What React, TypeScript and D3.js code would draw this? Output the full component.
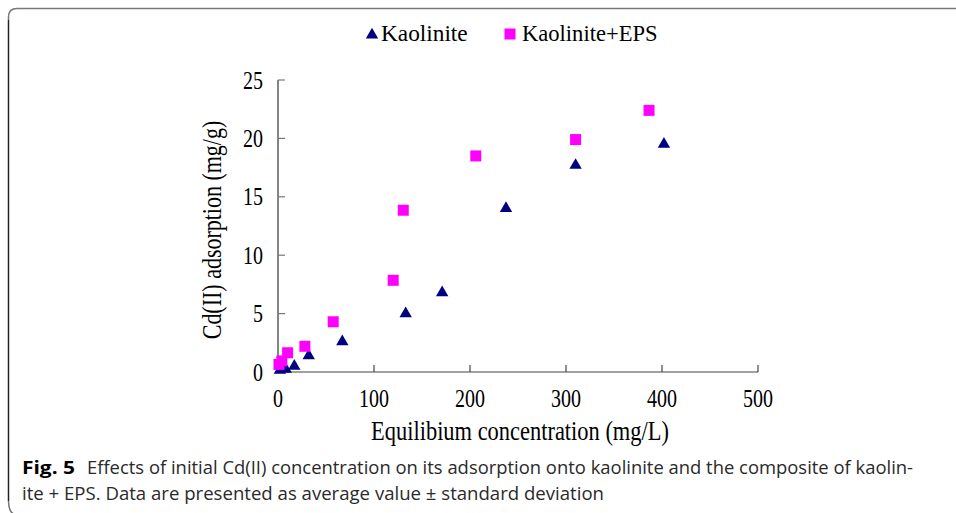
import React from "react";
import * as d3 from "d3";

const seriesNames = ["Kaolinite", "Kaolinite+EPS"];
const kaoliniteX = [2, 8, 17, 32, 67, 133, 171, 237.5, 310, 402];
const kaoliniteY = [0.15, 0.25, 0.5, 1.4, 2.6, 5.0, 6.8, 14.0, 17.7, 19.5];
const epsX = [1, 4, 10, 28, 57.5, 120, 130.5, 206, 310, 386.5];
const epsY = [0.65, 0.95, 1.65, 2.2, 4.3, 7.85, 13.85, 18.5, 19.9, 22.4];
const xTicks = [0, 100, 200, 300, 400, 500];
const yTicks = [0, 5, 10, 15, 20, 25];

const W = 956;
const H = 513;
const serif = "'Liberation Serif', 'Times New Roman', serif";
const sans = "'Open Sans', 'Noto Sans', sans-serif";

function ST(props: { x: number; y: number; sx?: number; sy?: number; rot?: number; anchor?: string; size: number; children: React.ReactNode }) {
  const { x, y, sx = 1, sy = 1, rot = 0, anchor = "start", size } = props;
  return (
    <text
      transform={`translate(${x},${y}) rotate(${rot}) scale(${sx},${sy})`}
      textAnchor={anchor}
      fontFamily={serif}
      fontSize={size}
      fill="#000"
    >
      {props.children}
    </text>
  );
}

export default function App() {
  const x = d3.scaleLinear().domain([0, 500]).range([278, 758]);
  const y = d3.scaleLinear().domain([0, 25]).range([372, 80]);
  const tri = d3.symbol().type(d3.symbolTriangle).size(66)() as string;
  const sq = d3.symbol().type(d3.symbolSquare).size(121)() as string;
  const navy = "#000080";
  const mag = "#ff00ff";
  return (
    <svg width={W} height={H} style={{ position: "absolute", left: 0, top: 0, background: "#fff" }}>
      <rect x={0} y={0} width={W} height={H} fill="#fff" />
      {/* frame */}
      <path d={`M ${W + 10} 8.5 L 17 8.5 Q 8.5 8.5 8.5 17 L 8.5 ${H - 12} Q 8.5 ${H + 2} 18 ${H + 2}`} fill="none" stroke="#777" strokeWidth={1.5} />
      <path d={`M 8.5 20 L 8.5 ${H - 12}`} fill="none" stroke="#222" strokeWidth={1.2} />
      {/* legend */}
      <path d={tri} transform="translate(372,35)" fill={navy} />
      <ST x={381} y={41} size={21} sx={1.11} sy={1.05}>{seriesNames[0]}</ST>
      <path d={sq} transform="translate(510,34)" fill={mag} />
      <ST x={522} y={41} size={21} sx={1.075} sy={1.05}>{seriesNames[1]}</ST>
      {/* axes */}
      <line x1={x(0)} x2={x(0)} y1={y(25)} y2={y(0)} stroke="#777" strokeWidth={1.8} />
      <line x1={x(0)} x2={x(500)} y1={y(0)} y2={y(0)} stroke="#444" strokeWidth={1.2} />
      {yTicks.map((t) => (
        <g key={"y" + t}>
          <line x1={x(0)} x2={x(0) + 7} y1={y(t)} y2={y(t)} stroke="#777" strokeWidth={1.2} />
          <ST x={x(0) - 15} y={y(t) + 8.5} anchor="end" size={20} sy={1.25}>{t}</ST>
        </g>
      ))}
      {xTicks.map((t) => (
        <g key={"x" + t}>
          {t > 0 && <line x1={x(t)} x2={x(t)} y1={y(0)} y2={y(0) - 7} stroke="#444" strokeWidth={1.2} />}
          <ST x={x(t)} y={407} anchor="middle" size={20} sy={1.25}>{t}</ST>
        </g>
      ))}
      <ST x={520} y={440} anchor="middle" size={22} sx={1.02} sy={1.2}>Equilibium concentration (mg/L)</ST>
      <ST x={221} y={230} rot={-90} anchor="middle" size={22} sy={1.2}>Cd(II) adsorption (mg/g)</ST>
      {/* data */}
      {kaoliniteX.map((v, i) => (
        <path key={"k" + i} d={tri} transform={`translate(${x(v)},${y(kaoliniteY[i])})`} fill={navy} />
      ))}
      {epsX.map((v, i) => (
        <path key={"e" + i} d={sq} transform={`translate(${x(v)},${y(epsY[i])})`} fill={mag} />
      ))}
      {/* caption */}
      <g fontFamily={sans} fontSize={18} fill="#2a2a2a">
        <text x={22} y={474} fontWeight="bold" textLength={53} lengthAdjust="spacingAndGlyphs" fill="#000">Fig. 5</text>
        <text x={87} y={474} textLength={826} lengthAdjust="spacingAndGlyphs">Effects of initial Cd(II) concentration on its adsorption onto kaolinite and the composite of kaolin-</text>
        <text x={22} y={500} textLength={582} lengthAdjust="spacingAndGlyphs">ite + EPS. Data are presented as average value ± standard deviation</text>
      </g>
    </svg>
  );
}
